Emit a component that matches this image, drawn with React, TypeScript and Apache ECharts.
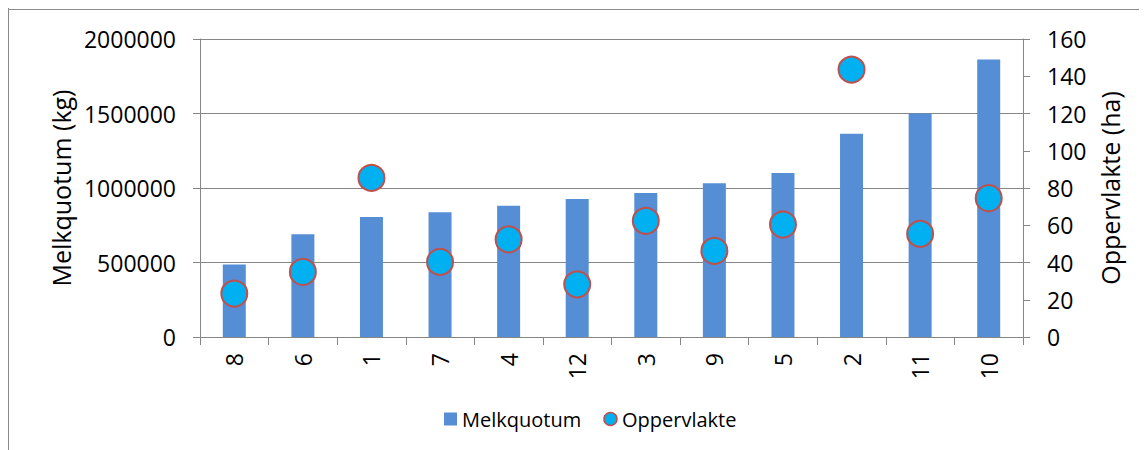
import React, { useEffect, useRef } from "react";
import * as echarts from "echarts";

const categories = ["8", "6", "1", "7", "4", "12", "3", "9", "5", "2", "11", "10"];
const melkquotum = [486000, 690000, 806000, 838000, 881000, 926000, 966000, 1032000, 1100000, 1364000, 1500000, 1862000];
const oppervlakte = [23.3, 34.9, 85.4, 40.3, 52.4, 28.3, 62.4, 46.2, 60.4, 143.6, 55.4, 74.5];
const leftTicks = { min: 0, max: 2000000, interval: 500000 };
const rightTicks = { min: 0, max: 160, interval: 20 };

const FONT = "'Open Sans', sans-serif";
const AXIS_GRAY = "#868686";

export default function App() {
  const ref = useRef<HTMLDivElement>(null);
  useEffect(() => {
    document.documentElement.style.overflow = "hidden";
    const chart = echarts.init(ref.current!, null, { renderer: "svg" });
    chart.setOption({
      animation: false,
      textStyle: { fontFamily: FONT, color: "#000" },
      graphic: [
        { type: "line", shape: { x1: 0.5, y1: 0, x2: 0.5, y2: 442 }, style: { stroke: "#8a8a8a", lineWidth: 1 } },
        { type: "line", shape: { x1: 0, y1: 1.5, x2: 1139, y2: 1.5 }, style: { stroke: "#8a8a8a", lineWidth: 1 } },
      ],
      grid: { left: 192, right: 124, top: 31, bottom: 113 },
      legend: {
        left: 431,
        top: 396,
        itemWidth: 13,
        itemHeight: 13,
        itemGap: 22,
        textStyle: { fontFamily: FONT, fontSize: 20, color: "#000" },
        data: [
          { name: "Melkquotum", icon: "rect" },
          { name: "Oppervlakte", icon: "circle", itemStyle: { borderWidth: 1.5 } },
        ],
      },
      xAxis: {
        type: "category",
        data: categories,
        axisLine: { lineStyle: { color: AXIS_GRAY, width: 1 } },
        axisTick: { show: true, length: 8, lineStyle: { color: AXIS_GRAY } },
        axisLabel: { rotate: 90, margin: 16, fontSize: 23, fontFamily: FONT, color: "#000" },
      },
      yAxis: [
        {
          type: "value",
          min: leftTicks.min,
          max: leftTicks.max,
          interval: leftTicks.interval,
          name: "Melkquotum (kg)",
          nameLocation: "middle",
          nameRotate: 90,
          nameGap: 116,
          nameTextStyle: { fontSize: 25, fontFamily: FONT, color: "#000" },
          axisLine: { show: true, lineStyle: { color: AXIS_GRAY } },
          axisTick: { show: true, length: 7, lineStyle: { color: AXIS_GRAY } },
          axisLabel: { margin: 24, fontSize: 23, fontFamily: FONT, color: "#000", formatter: (v: number) => String(v) },
          splitLine: { show: true, lineStyle: { color: AXIS_GRAY, width: 1 } },
        },
        {
          type: "value",
          position: "right",
          min: rightTicks.min,
          max: rightTicks.max,
          interval: rightTicks.interval,
          name: "Oppervlakte (ha)",
          nameLocation: "middle",
          nameRotate: 90,
          nameGap: 72,
          nameTextStyle: { fontSize: 25, fontFamily: FONT, color: "#000" },
          axisLine: { show: true, lineStyle: { color: AXIS_GRAY } },
          axisTick: { show: true, length: 7, lineStyle: { color: AXIS_GRAY } },
          axisLabel: { margin: 24, fontSize: 23, fontFamily: FONT, color: "#000" },
          splitLine: { show: false },
        },
      ],
      series: [
        {
          name: "Melkquotum",
          type: "bar",
          yAxisIndex: 0,
          data: melkquotum,
          barWidth: 23,
          itemStyle: { color: "#558ed5" },
        },
        {
          name: "Oppervlakte",
          type: "scatter",
          yAxisIndex: 1,
          data: oppervlakte,
          symbol: "circle",
          symbolSize: 26,
          itemStyle: { color: "#00b0f0", borderColor: "#c0504d", borderWidth: 2, opacity: 1 },
          z: 3,
        },
      ],
    });
    return () => chart.dispose();
  }, []);
  return <div ref={ref} style={{ width: 1139, height: 442 }} />;
}
